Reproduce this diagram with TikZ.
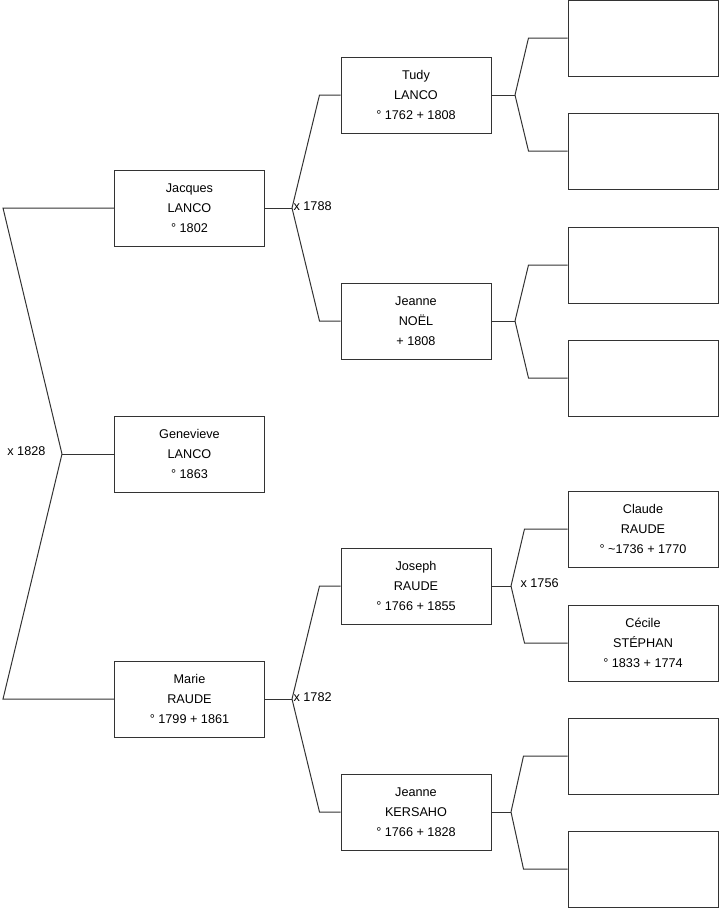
\documentclass[tikz,border=0pt]{standalone}
\usepackage{fontspec}
\setmainfont{Liberation Sans}
\begin{document}
\begin{tikzpicture}[x=0.75pt,y=-0.75pt,
  person/.style={draw=black!80,line width=0.75pt,fill=white,minimum width=112.5pt,
                 minimum height=57pt,inner sep=0pt,align=center,
                 font=\fontsize{9.5}{15}\selectfont},
  link/.style={draw=black!80,line width=0.75pt},
  wed/.style={font=\fontsize{9.5}{11}\selectfont,inner sep=1pt},
]
\useasboundingbox (0,0) rectangle (719,908);
% generation 1
\node[person] (genevieve) at (189.5,454) {Genevieve\\LANCO\\° 1863};
% generation 2
\node[person] (jacques) at (189.5,208) {Jacques\\LANCO\\° 1802};
\node[person] (marie) at (189.5,699) {Marie\\RAUDE\\° 1799 + 1861};
% generation 3
\node[person] (tudy) at (416,95) {Tudy\\LANCO\\° 1762 + 1808};
\node[person] (jeanneN) at (416,321) {Jeanne\\NOËL\\+ 1808};
\node[person] (joseph) at (416,586) {Joseph\\RAUDE\\° 1766 + 1855};
\node[person] (jeanneK) at (416,812) {Jeanne\\KERSAHO\\° 1766 + 1828};
% generation 4
\node[person] (tudyF) at (643,38) {};
\node[person] (tudyM) at (643,151) {};
\node[person] (noelF) at (643,265) {};
\node[person] (noelM) at (643,378) {};
\node[person] (claude) at (643,529) {Claude\\RAUDE\\° \textasciitilde1736 + 1770};
\node[person] (cecile) at (643,643) {Cécile\\STÉPHAN\\° 1833 + 1774};
\node[person] (kersF) at (643,756) {};
\node[person] (kersM) at (643,869) {};
% fork points
\coordinate (m1) at (62,454);
\coordinate (m2) at (292,208);
\coordinate (m3) at (292,699);
\coordinate (m4) at (515,95);
\coordinate (m5) at (515,321);
\coordinate (m6) at (511,586);
\coordinate (m7) at (511,812);
% links
\draw[link] (genevieve.west) -- (m1);
\draw[link] (jacques.west) -- ++(-111,0) -- (m1);
\draw[link] (marie.west) -- ++(-111,0) -- (m1);
\draw[link] (jacques.east) -- (m2);
\draw[link] (tudy.west) -- ++(-21,0) -- (m2);
\draw[link] (jeanneN.west) -- ++(-21,0) -- (m2);
\draw[link] (marie.east) -- (m3);
\draw[link] (joseph.west) -- ++(-21,0) -- (m3);
\draw[link] (jeanneK.west) -- ++(-21,0) -- (m3);
\draw[link] (tudy.east) -- (m4);
\draw[link] (tudyF.west) -- ++(-39,0) -- (m4);
\draw[link] (tudyM.west) -- ++(-39,0) -- (m4);
\draw[link] (jeanneN.east) -- (m5);
\draw[link] (noelF.west) -- ++(-39,0) -- (m5);
\draw[link] (noelM.west) -- ++(-39,0) -- (m5);
\draw[link] (joseph.east) -- (m6);
\draw[link] (claude.west) -- ++(-43,0) -- (m6);
\draw[link] (cecile.west) -- ++(-43,0) -- (m6);
\draw[link] (jeanneK.east) -- (m7);
\draw[link] (kersF.west) -- ++(-44,0) -- (m7);
\draw[link] (kersM.west) -- ++(-44,0) -- (m7);
% marriages
\node[wed,anchor=east] (w1) at (47,451) {x 1828};
\node[wed,anchor=west] (w2) at (292,206) {x 1788};
\node[wed,anchor=west] (w3) at (292,697) {x 1782};
\node[wed,anchor=west] (w4) at (519,583) {x 1756};
\end{tikzpicture}
\end{document}
